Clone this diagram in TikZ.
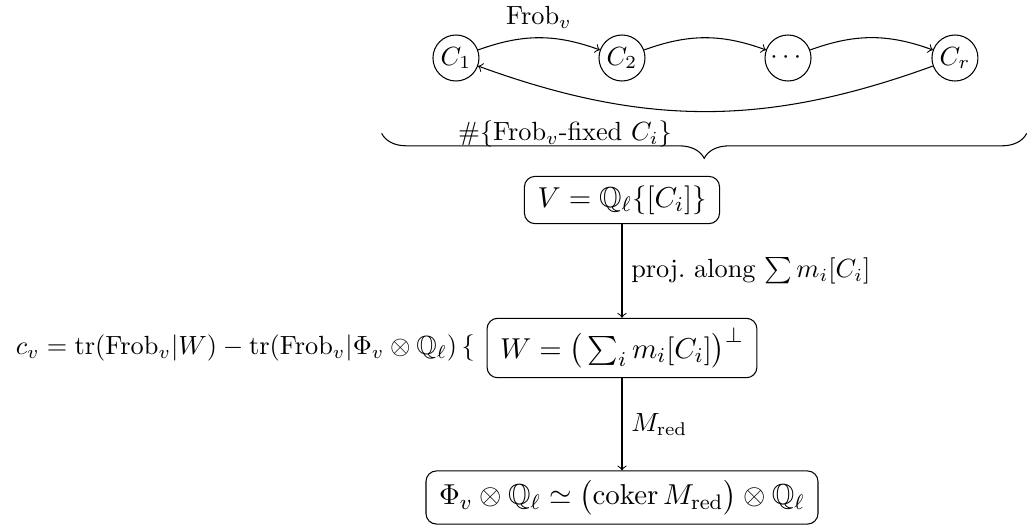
\documentclass[tikz,border=0pt]{standalone}
\usepackage{amsmath,amssymb}
\usetikzlibrary{decorations.pathreplacing}

\begin{document}
\begin{tikzpicture}[
comp/.style={draw, circle, minimum size=17.5pt, inner sep=1pt},
espace/.style={draw, rounded corners, inner xsep=5pt, inner ysep=3.5pt, font=\fontsize{11}{13}\selectfont},
]

\useasboundingbox (-8.313,0) rectangle (5.413,-7.030);

\node[comp]
(C1)
at (-2.219,-0.775)
{$C_1$};

\node[comp]
(C2)
at (0,-0.775)
{$C_2$};

\node[comp]
(Cd)
at (2.219,-0.775)
{$\cdots$};

\node[comp]
(Cr)
at (4.45,-0.775)
{$C_r$};

\draw[->]
(C1)
to[bend left=20]
node[above] {$\mathrm{Frob}_v$}
(C2);

\draw[->]
(C2)
to[bend left=20]
(Cd);

\draw[->]
(Cd)
to[bend left=20]
(Cr);

\draw[->]
(Cr)
to[bend left=20]
(C1);

\coordinate
(Bg)
at (-3.212,-1.782);

\coordinate
(Bd)
at (5.409,-1.782);

\draw[decorate, decoration={brace, mirror, amplitude=9.5pt}]
(Bg)
--
(Bd);

\node
(Fix)
at (-0.762,-1.79)
{$\#\{\mathrm{Frob}_v\text{-fixed } C_i\}$};

\node[espace]
(V)
at (0,-2.673)
{$V = \mathbb{Q}_\ell\{[C_i]\}$};

\node[espace]
(W)
at (0,-4.651)
{$W = \bigl(\,\sum_i m_i[C_i]\bigr)^{\perp}$};

\node[espace]
(Phi)
at (0,-6.649)
{$\Phi_v\otimes\mathbb{Q}_\ell \simeq \bigl(\operatorname{coker} M_{\mathrm{red}}\bigr)\otimes\mathbb{Q}_\ell$};

\draw[->]
(V)
--
node[right] {proj.\ along $\sum m_i[C_i]$}
(W);

\draw[->]
(W)
--
node[right] {$M_{\mathrm{red}}$}
(Phi);

\node[anchor=east]
(cv)
at (-1.844,-4.651)
{$c_v = \operatorname{tr}(\mathrm{Frob}_v|W) - \operatorname{tr}(\mathrm{Frob}_v|\Phi_v\otimes\mathbb{Q}_\ell)\,\{$};

\end{tikzpicture}
\end{document}
